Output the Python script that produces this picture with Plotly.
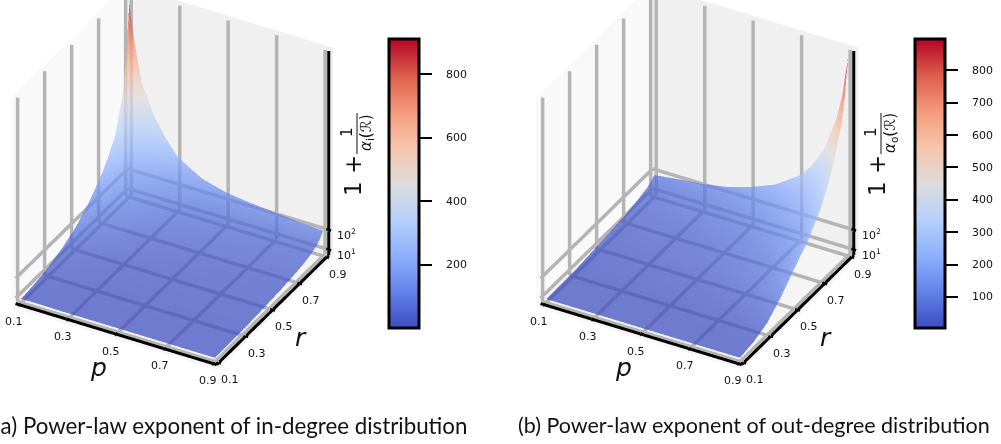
import plotly.graph_objects as go

W, H = 1001, 444

# ---------- data ----------
tick_p = [0.1, 0.3, 0.5, 0.7, 0.9]
tick_r = [0.1, 0.3, 0.5, 0.7, 0.9]
tick_z = [10, 100]
tick_z_text = ["10<sup>1</sup>", "10<sup>2</sup>"]

r_grid = [0.1, 0.2, 0.3, 0.4, 0.5, 0.6, 0.7, 0.75, 0.8, 0.85, 0.875, 0.9]

p_grid_a = [0.1, 0.12, 0.15, 0.2, 0.25, 0.3, 0.4, 0.5, 0.6, 0.7, 0.8, 0.9]
z_a = [
    [3, 3, 3, 3, 2, 2, 2, 2, 2, 2, 2, 2],
    [12, 9, 7, 5, 4, 4, 4, 3, 3, 3, 3, 3],
    [25, 20, 15, 11, 9, 8, 6, 6, 6, 6, 5, 5],
    [50, 40, 30, 22, 18, 15, 12, 11, 10, 10, 9, 9],
    [85, 68, 50, 38, 30, 25, 19, 17, 16, 15, 14, 14],
    [140, 112, 84, 64, 51, 41, 31, 27, 24, 22, 21, 20],
    [215, 172, 128, 97, 78, 63, 47, 40, 36, 33, 31, 29],
    [268, 214, 159, 120, 97, 78, 58, 49, 44, 41, 38, 35],
    [335, 270, 200, 152, 122, 98, 72, 61, 55, 51, 47, 44],
    [480, 385, 290, 220, 175, 138, 100, 84, 76, 70, 64, 60],
    [620, 500, 380, 285, 225, 175, 125, 103, 92, 86, 78, 74],
    [860, 710, 530, 395, 305, 235, 170, 140, 126, 117, 106, 100],
]

p_grid_b = [0.1, 0.2, 0.3, 0.4, 0.5, 0.6, 0.7, 0.75, 0.8, 0.85, 0.875, 0.9]
z_b = [
    [2, 2, 2, 2, 2, 2, 2, 2, 2, 2, 2, 3],
    [2, 2, 2, 3, 3, 4, 5, 6, 7, 9, 11, 14],
    [4, 5, 6, 7, 8, 10, 13, 16, 20, 27, 32, 40],
    [10, 12, 13, 16, 19, 24, 32, 38, 47, 64, 76, 95],
    [18, 21, 23, 27, 33, 41, 55, 66, 82, 110, 132, 165],
    [25, 29, 32, 38, 46, 57, 77, 92, 115, 154, 184, 230],
    [34, 39, 44, 52, 63, 79, 107, 128, 160, 216, 258, 325],
    [41, 47, 53, 62, 76, 96, 129, 155, 194, 261, 313, 395],
    [50, 57, 65, 76, 93, 117, 159, 191, 240, 323, 387, 490],
    [60, 69, 78, 92, 114, 144, 196, 236, 297, 401, 480, 610],
    [70, 80, 91, 108, 134, 170, 231, 278, 350, 472, 566, 720],
    [85, 100, 112, 132, 165, 210, 285, 345, 435, 586, 702, 890],
]

cbar_ticks_a = [200, 400, 600, 800]
cbar_ticks_b = [100, 200, 300, 400, 500, 600, 700, 800]
cbar_range_a = [2, 910]
cbar_range_b = [4, 897]

captions = ["(a) Power-law exponent of in-degree distribution",
            "(b) Power-law exponent of out-degree distribution"]
caption_sizes = [22.3, 21.5]
sub_labels = ["i", "o"]

coolwarm = [[0, "#3b4cc0"], [0.125, "#6282ea"], [0.25, "#8db0fe"], [0.375, "#b7cff9"],
            [0.5, "#dddcdc"], [0.625, "#f5c4ac"], [0.75, "#f49a7b"], [0.875, "#dc5d4a"],
            [1, "#b40426"]]

# ---------- styling ----------
# Edges on which the axis lines are drawn
P_EDGE = [0.085, 0.915]
R_EDGE = [0.085, 0.915]
Z_EDGE = [-15, 915]
# Native axis ranges sit just outside, so the panes do not hide half of each thick line
P_RANGE = [0.073, 0.927]
R_RANGE = [0.073, 0.927]
Z_RANGE = [-27, 927]
GRID = "#b4b4b4"
FONT = "DejaVu Sans"
BAR_TOP, BAR_BOTTOM = 39, 328


def segs(items):
    xs, ys, zs = [], [], []
    for a, b in items:
        xs += [a[0], b[0], None]
        ys += [a[1], b[1], None]
        zs += [a[2], b[2], None]
    return xs, ys, zs


def line_trace(scene, items, color, width):
    xs, ys, zs = segs(items)
    return go.Scatter3d(x=xs, y=ys, z=zs, mode="lines", scene=scene,
                        line=dict(color=color, width=width),
                        hoverinfo="skip", showlegend=False)


def scene_traces(scene):
    p0, p1 = P_EDGE
    r0, r1 = R_EDGE
    z0, z1 = Z_EDGE
    grid = []
    for p in tick_p:
        grid.append(((p, r0, z0), (p, r1, z0)))   # floor
        grid.append(((p, r1, z0), (p, r1, z1)))   # back wall
    for r in tick_r:
        grid.append(((p0, r, z0), (p1, r, z0)))   # floor
        grid.append(((p0, r, z0), (p0, r, z1)))   # left wall
    for z in tick_z:
        grid.append(((p0, r0, z), (p0, r1, z)))
        grid.append(((p0, r1, z), (p1, r1, z)))
    axes = [((p0, r0, z0), (p1, r0, z0)),
            ((p1, r0, z0), (p1, r1, z0)),
            ((p1, r1, z0), (p1, r1, z1))]
    ticks = []
    for p in tick_p:
        ticks.append(((p, r0 - 0.01, z0), (p, r0 + 0.01, z0)))
    for r in tick_r:
        ticks.append(((p1 - 0.01, r, z0), (p1 + 0.01, r, z0)))
    for z in tick_z:
        ticks.append(((p1 - 0.01, r1, z), (p1 + 0.01, r1, z)))
    return [line_trace(scene, grid, GRID, 7),
            line_trace(scene, axes, "#000000", 6),
            line_trace(scene, ticks, "#000000", 5)]


def tick_annotations():
    out = []
    f = dict(family=FONT, size=11, color="#111111")
    for p in tick_p:
        out.append(dict(x=p, y=R_EDGE[0], z=Z_EDGE[0], text=f"{p:.1f}", showarrow=False,
                        xshift=-5, yshift=-17, font=f))
    for r in tick_r:
        out.append(dict(x=P_EDGE[1], y=r, z=Z_EDGE[0], text=f"{r:.1f}", showarrow=False,
                        xshift=11, yshift=-17, font=f))
    for z, t in zip(tick_z, tick_z_text):
        out.append(dict(x=P_EDGE[1], y=R_EDGE[1], z=z, text=t, showarrow=False,
                        xshift=18, yshift=-5, font=f))
    tf = dict(family=FONT, size=25, color="#111111")
    out.append(dict(x=0.5, y=R_EDGE[0], z=Z_EDGE[0], text="<i>p</i>", showarrow=False,
                    xshift=-18, yshift=-33, font=tf))
    out.append(dict(x=P_EDGE[1], y=0.5, z=Z_EDGE[0], text="<i>r</i>", showarrow=False,
                    xshift=28, yshift=-28, font=tf))
    return out


def scene_layout(px0, px1):
    ax = dict(showgrid=False, zeroline=False, showline=False, ticks="",
              showticklabels=False, showspikes=False, title=dict(text=""),
              showbackground=True)
    dist = 2.14
    k = 1.067
    return dict(
        domain=dict(x=[px0 / W, px1 / W], y=[0, 1]),
        xaxis=dict(ax, range=P_RANGE, tickvals=tick_p, backgroundcolor="#f9f9f9"),
        yaxis=dict(ax, range=R_RANGE, tickvals=tick_r, backgroundcolor="#f0f0f0"),
        zaxis=dict(ax, range=Z_RANGE, tickvals=tick_z, backgroundcolor="#f5f5f5"),
        aspectmode="manual",
        aspectratio=dict(x=k, y=k, z=1.054 * k),
        camera=dict(projection=dict(type="orthographic"),
                    eye=dict(x=0.463 * dist, y=-0.732 * dist, z=0.45 * dist),
                    center=dict(x=0.09, y=0.05, z=-0.24),
                    up=dict(x=0, y=0, z=1)),
        annotations=tick_annotations(),
        bgcolor="rgba(0,0,0,0)",
    )


def surface(scene, px, rr, zz, crange, cticks, cx):
    return go.Surface(
        x=px, y=rr, z=zz, scene=scene, opacity=0.72,
        colorscale=coolwarm, cmin=crange[0], cmax=crange[1],
        lighting=dict(ambient=1, diffuse=0, specular=0, roughness=1, fresnel=0),
        hoverinfo="skip",
        contours=dict(x=dict(highlight=False), y=dict(highlight=False), z=dict(highlight=False)),
        colorbar=dict(x=cx / W, xanchor="left", xpad=0, ypad=0,
                      y=1 - (BAR_TOP + BAR_BOTTOM) / 2 / H, yanchor="middle",
                      lenmode="pixels", len=BAR_BOTTOM - BAR_TOP,
                      thicknessmode="pixels", thickness=30,
                      outlinewidth=3, outlinecolor="#000000", borderwidth=0,
                      tickmode="array", tickvals=cticks, ticks="outside",
                      ticklen=12, tickwidth=2, tickcolor="#000000",
                      showticklabels=False),
    )


fig = go.Figure()
fig.add_trace(surface("scene", p_grid_a, r_grid, z_a, cbar_range_a, cbar_ticks_a, 389))
for t in scene_traces("scene"):
    fig.add_trace(t)
fig.add_trace(surface("scene2", p_grid_b, r_grid, z_b, cbar_range_b, cbar_ticks_b, 915))
for t in scene_traces("scene2"):
    fig.add_trace(t)

annotations = []
shapes = []


def paper_text(x, y, text, size, angle=0, **kw):
    kw.setdefault("xanchor", "center")
    annotations.append(dict(xref="paper", yref="paper", x=x / W, y=1 - y / H, text=text,
                            showarrow=False, textangle=angle, yanchor="middle",
                            font=dict(family=FONT, size=size, color="#111111"), **kw))


for dx, sub in zip([0, 524], sub_labels):
    paper_text(353 + dx, 176, "1 +", 23, angle=-90)
    paper_text(347 + dx, 132, "1", 15, angle=-90)
    paper_text(367 + dx, 133, f"<i>\u03b1</i><sub>{sub}</sub>(\u211b)", 15, angle=-90)
    shapes.append(dict(type="line", xref="paper", yref="paper",
                       x0=(357 + dx) / W, x1=(357 + dx) / W,
                       y0=1 - 113 / H, y1=1 - 154 / H,
                       line=dict(color="#111111", width=1)))

# Colour-bar tick labels sit further from the ticks than plotly's own padding allows
for cx, crange, cticks in [(389, cbar_range_a, cbar_ticks_a), (915, cbar_range_b, cbar_ticks_b)]:
    for v in cticks:
        frac = (v - crange[0]) / (crange[1] - crange[0])
        paper_text(cx + 55, BAR_BOTTOM - frac * (BAR_BOTTOM - BAR_TOP), str(v), 11, xanchor="left")

for right, cap, size in zip([469, 992], captions, caption_sizes):
    annotations.append(dict(xref="paper", yref="paper", x=right / W, y=1 - 425 / H, text=cap,
                            showarrow=False, xanchor="right", yanchor="middle",
                            font=dict(family="Lato", size=size, color="#111111")))

fig.update_layout(
    width=W, height=H, autosize=False,
    margin=dict(l=0, r=0, t=0, b=0),
    paper_bgcolor="#ffffff",
    showlegend=False,
    scene=scene_layout(0, 390),
    scene2=scene_layout(525, 915),
    annotations=annotations,
    shapes=shapes,
)

fig.write_html("out.html", config=dict(displayModeBar=False),
               post_script="document.body.style.margin='0';")
